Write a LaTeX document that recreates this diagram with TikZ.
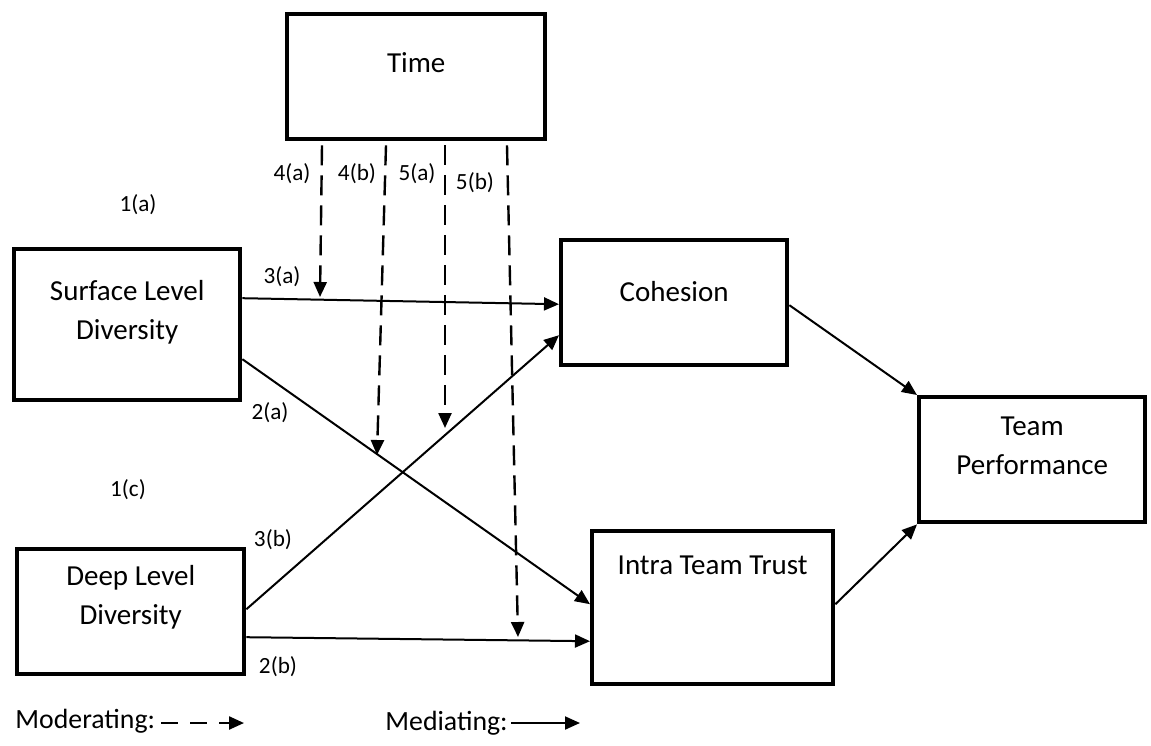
\documentclass[tikz,border=0pt]{standalone}
\usepackage{fontspec}
\setmainfont{Carlito}
\usetikzlibrary{calc,arrows.meta}

\begin{document}
\begin{tikzpicture}[x=0.5pt, y=-0.5pt, >={Triangle[length=7.5pt,width=6.5pt]},
    box/.style={draw, rectangle, line width=2.2pt, anchor=north west, inner sep=0pt},
    txt/.style={font=\fontsize{14.5}{19.5}\selectfont, align=center},
    tag/.style={font=\fontsize{11.6}{14}\selectfont},
    key/.style={font=\fontsize{13.9}{16}\selectfont, anchor=west, inner sep=0pt},
    med/.style={->, line width=1pt},
    mod/.style={->, line width=1.2pt, dash pattern=on 10pt off 5pt}]

    \useasboundingbox (0,0) rectangle (1151,745);

    % Boxes
    \node[box, minimum width=129pt, minimum height=62.5pt] (time) at (285,12) {};
    \node[box, minimum width=113pt, minimum height=75.5pt] (surface) at (12,247) {};
    \node[box, minimum width=113pt, minimum height=62.5pt] (cohesion) at (559,238) {};
    \node[box, minimum width=113pt, minimum height=62.5pt] (perf) at (917,395) {};
    \node[box, minimum width=113.5pt, minimum height=62.5pt] (deep) at (15,547) {};
    \node[box, minimum width=120.5pt, minimum height=76.5pt] (trust) at (590,529) {};

    % Box texts (sit in the upper part of each box)
    \node[txt] (timetxt) at ($(time.north)+(0,51)$) {Time};
    \node[txt] (surfacetxt) at ($(surface.north)+(0,65)$) {Surface Level\\Diversity};
    \node[txt] (cohesiontxt) at ($(cohesion.north)+(0,54)$) {Cohesion};
    \node[txt] (perftxt) at ($(perf.north)+(0,51)$) {Team\\Performance};
    \node[txt] (deeptxt) at ($(deep.north)+(0,50.5)$) {Deep Level\\Diversity};
    \node[txt] (trusttxt) at ($(trust.north)+(0,36)$) {Intra Team Trust};

    % Mediating paths
    \draw[med] ($(surface.east)+(0,-26.5)$) -- ($(cohesion.west)+(0,1.5)$);
    \draw[med] ($(surface.east)+(0,34.5)$) -- ($(trust.west)+(0,-3.5)$);
    \draw[med] ($(deep.east)+(0,-2.5)$) -- ($(cohesion.west)+(0,32.5)$);
    \draw[med] ($(deep.east)+(0,25.5)$) -- ($(trust.west)+(0,33.5)$);
    \draw[med] ($(cohesion.east)+(0,2.5)$) -- (perf.north west);
    \draw[med] ($(trust.east)+(0,-3.5)$) -- (perf.south west);

    % Moderating paths from Time
    \coordinate (m4a) at (320,297);
    \coordinate (m4b) at (377,455);
    \coordinate (m5a) at (445,428);
    \coordinate (m5b) at (518,637);
    \draw[mod] ($(time.south west)+(37,4)$) -- (m4a);
    \draw[mod] ($(time.south west)+(101,4)$) -- (m4b);
    \draw[mod] ($(time.south west)+(160,4)$) -- (m5a);
    \draw[mod] ($(time.south west)+(222,4)$) -- (m5b);

    % Path labels
    \node[tag] (l1a) at (138,205) {1(a)};
    \node[tag] (l1c) at (128,490) {1(c)};
    \node[tag] (l3a) at (282,277) {3(a)};
    \node[tag] (l2a) at (270,413) {2(a)};
    \node[tag] (l3b) at (273,540) {3(b)};
    \node[tag] (l2b) at (278,667) {2(b)};
    \node[tag] (l4a) at (292,174) {4(a)};
    \node[tag] (l4b) at (357,174) {4(b)};
    \node[tag] (l5a) at (417,174) {5(a)};
    \node[tag] (l5b) at (475,183) {5(b)};

    % Legend
    \node[key] (modkey) at (15,721) {Moderating:};
    \coordinate (modend) at (244,723);
    \draw[mod, dash pattern=on 8.5pt off 6pt] ($(modkey.east)+(6,2)$) -- (modend);
    \node[key] (medkey) at (385,723) {Mediating:};
    \coordinate (medend) at (580,723);
    \draw[med] ($(medkey.east)+(3,0)$) -- (medend);

\end{tikzpicture}
\end{document}
